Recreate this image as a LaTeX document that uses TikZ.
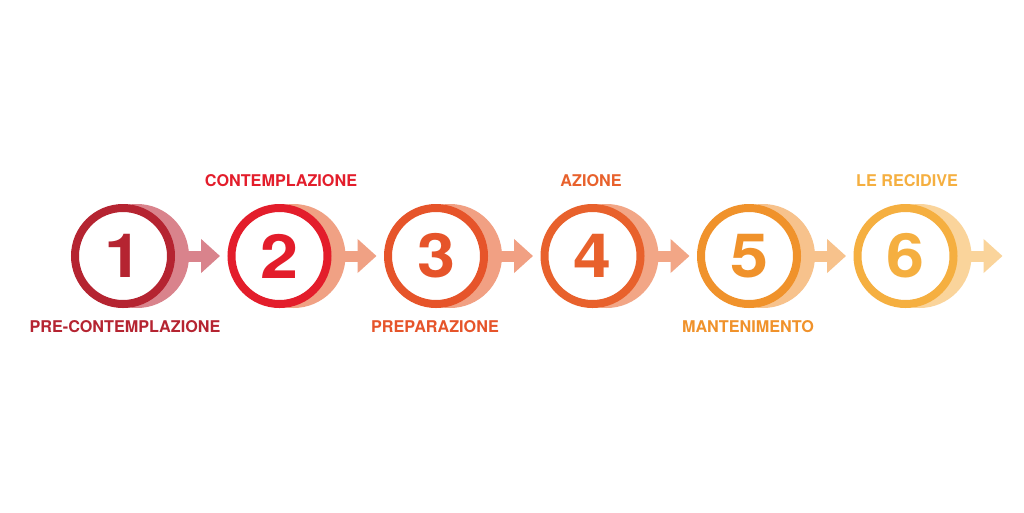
\documentclass[tikz,border=0pt]{standalone}
\usepackage{fontspec}
\setmainfont{TeX Gyre Heros}
\usetikzlibrary{arrows.meta}
\definecolor{cA}{HTML}{B52431}\definecolor{sA}{HTML}{D9838C}
\definecolor{cB}{HTML}{E31D2B}\definecolor{sB}{HTML}{F0A184}
\definecolor{cC}{HTML}{E6542A}\definecolor{sC}{HTML}{F1A083}
\definecolor{cD}{HTML}{E8612C}\definecolor{sD}{HTML}{F2A686}
\definecolor{cE}{HTML}{F0922B}\definecolor{sE}{HTML}{F7C28C}
\definecolor{cF}{HTML}{F5AF40}\definecolor{sF}{HTML}{FAD49B}
\tikzset{
  ring/.style={circle, draw=#1, line width=8pt, fill=white, minimum size=96pt, inner sep=0pt,
     text=#1, font=\fontsize{61}{61}\selectfont\bfseries},
  shadowdisc/.style={circle, fill=#1, minimum size=104pt, inner sep=0pt},
  flow/.style={draw=#1, line width=11pt, -{Triangle[length=19pt,width=33pt]}},
  lbl/.style={text=#1, font=\fontsize{16.2}{17}\selectfont\bfseries, inner sep=0pt}
}
\begin{document}
\begin{tikzpicture}[x=1pt,y=-1pt]
\useasboundingbox (0,0) rectangle (1024,512);
\fill[white] (0,0) rectangle (1024,512);
\foreach \i/\cx/\m/\s in {1/123/cA/sA, 2/279.5/cB/sB, 3/436/cC/sC, 4/592.5/cD/sD, 5/749/cE/sE, 6/905.5/cF/sF}{
  \node[shadowdisc=\s] (sh\i) at (\cx+14,256) {};
  \coordinate (tip\i) at (\cx+97,256);
  \draw[flow=\s] (sh\i.center) -- (tip\i);
  \node[ring=\m] (n\i) at (\cx,256) {\scalebox{1.12}[1]{\i}};
}
\node[lbl=cA] (l1) at (125,327) {PRE-CONTEMPLAZIONE};
\node[lbl=cB] (l2) at (281,181) {CONTEMPLAZIONE};
\node[lbl=cC] (l3) at (435,327) {PREPARAZIONE};
\node[lbl=cD] (l4) at (591,181) {AZIONE};
\node[lbl=cE] (l5) at (748,327) {MANTENIMENTO};
\node[lbl=cF] (l6) at (907,181) {LE RECIDIVE};
\end{tikzpicture}
\end{document}
